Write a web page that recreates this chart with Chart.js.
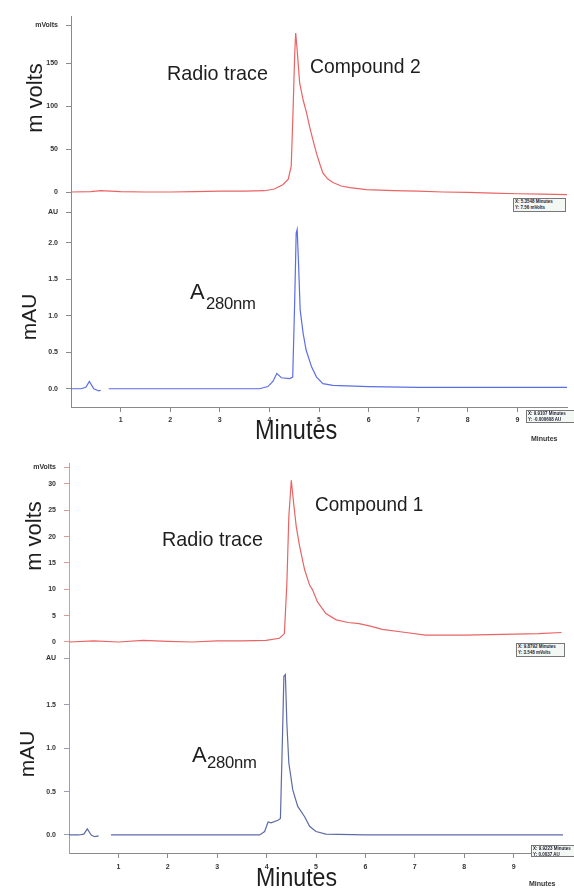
<!DOCTYPE html>
<html><head><meta charset="utf-8">
<script src="https://cdn.jsdelivr.net/npm/chart.js@4.4.1/dist/chart.umd.min.js"></script>
<style>
html,body{margin:0;padding:0;background:#fff;}
body{width:574px;height:888px;position:relative;overflow:hidden;font-family:"Liberation Sans",Arial,sans-serif;}
.box{position:absolute;left:0;width:574px;}
.t{position:absolute;white-space:nowrap;line-height:1;color:#1e1e1e;transform-origin:0 0;}
.rot{position:absolute;white-space:nowrap;line-height:1;color:#1e1e1e;transform:translate(-50%,-50%) rotate(-90deg);}
.cur{position:absolute;font-size:4.5px;line-height:5.5px;font-weight:bold;color:#223;border:1px solid #777;background:#f4f8f4;padding:0 1px;white-space:nowrap;overflow:hidden;}
.small{position:absolute;font-size:7px;line-height:1;font-weight:bold;color:#333;white-space:nowrap;}
</style></head><body>
<div class="box" style="top:2px;height:220px"><canvas id="c2r"></canvas></div>
<div class="box" style="top:194px;height:235px"><canvas id="c2u"></canvas></div>
<div class="box" style="top:449px;height:215px"><canvas id="c1r"></canvas></div>
<div class="box" style="top:636px;height:241px"><canvas id="c1u"></canvas></div>

<div class="t" style="left:167px;top:62px;font-size:21px;transform:scaleX(0.94)">Radio trace</div>
<div class="t" style="left:310px;top:55px;font-size:21px;transform:scaleX(0.92)">Compound 2</div>
<div class="t" style="left:190px;top:281px;font-size:22px;">A</div>
<div class="t" style="left:206px;top:295px;font-size:17px;transform:scaleX(0.98);letter-spacing:-0.3px">280nm</div>
<div class="rot" style="left:35px;top:98px;font-size:22px;">m volts</div>
<div class="rot" style="left:28px;top:317px;font-size:21px;">mAU</div>
<div class="t" style="left:255px;top:417px;font-size:27px;transform:scaleX(0.87)">Minutes</div>
<div class="small" style="left:531px;top:435px;">Minutes</div>

<div class="t" style="left:162px;top:528px;font-size:21px;transform:scaleX(0.94)">Radio trace</div>
<div class="t" style="left:315px;top:493px;font-size:21px;transform:scaleX(0.9)">Compound 1</div>
<div class="t" style="left:192px;top:744px;font-size:22px;">A</div>
<div class="t" style="left:207px;top:754px;font-size:17px;transform:scaleX(0.98);letter-spacing:-0.3px">280nm</div>
<div class="rot" style="left:34px;top:536px;font-size:22px;">m volts</div>
<div class="rot" style="left:26px;top:754px;font-size:21px;">mAU</div>
<div class="t" style="left:256px;top:864px;font-size:26px;transform:scaleX(0.89)">Minutes</div>
<div class="small" style="left:529px;top:880px;">Minutes</div>

<div class="cur" style="left:513px;top:198px;width:49px;height:12px">X: 5.3548 Minutes<br>Y: 7.56 mVolts</div>
<div class="cur" style="left:526px;top:410px;width:52px;height:11px">X: 9.9107 Minutes<br>Y: -0.000608 AU</div>
<div class="cur" style="left:516px;top:643px;width:45px;height:12px">X: 9.8792 Minutes<br>Y: 3.548 mVolts</div>
<div class="cur" style="left:531px;top:845px;width:46px;height:10px">X: 9.9223 Minutes<br>Y: 0.0037 AU</div>

<script>
// ---- data ----
const minuteTicks = [1, 2, 3, 4, 5, 6, 7, 8, 9];

// Compound 2 – radio trace (mVolts)
const c2RadioMin = [0, 0.4, 0.6, 1, 1.5, 2, 2.5, 3, 3.5, 3.9, 4.1, 4.27, 4.38, 4.44, 4.48, 4.51, 4.53, 4.56, 4.61, 4.68, 4.75, 4.81, 4.88, 4.95, 5.02, 5.08, 5.18, 5.28, 5.45, 5.62, 5.96, 6.5, 7, 7.5, 8, 8.5, 9, 9.5, 10];
const c2RadioMV  = [0, 0.5, 1.5, 0.5, 0, 0, 0.5, 1, 1, 1.5, 3.5, 8.5, 15, 30, 100, 160, 185, 165, 127, 107, 92, 76, 60, 45, 32, 22, 15, 11, 7, 5, 2.7, 1.5, 1, 0, -0.5, -1.2, -2, -2.5, -3];
// Compound 2 – A280nm (AU)
const c2UvMin = [0, 0.2, 0.3, 0.37, 0.46, 0.56, 0.6, 0.68, 0.76, 1, 2, 3, 3.8, 3.97, 4.07, 4.15, 4.24, 4.41, 4.47, 4.51, 4.54, 4.56, 4.59, 4.62, 4.68, 4.74, 4.85, 4.95, 5.08, 5.28, 6, 7, 8, 9, 10];
const c2UvAU  = [0, 0, 0.02, 0.1, 0.0, -0.03, -0.02, null, 0, 0, 0, 0, 0, 0.03, 0.1, 0.21, 0.15, 0.14, 0.16, 1.2, 2.13, 2.18, 1.67, 1.08, 0.76, 0.53, 0.30, 0.16, 0.07, 0.045, 0.03, 0.02, 0.02, 0.02, 0.02];

// Compound 1 – radio trace (mVolts)
const c1RadioMin = [0, 0.5, 1, 1.5, 2, 2.5, 3, 3.5, 3.99, 4.26, 4.36, 4.41, 4.45, 4.5, 4.54, 4.6, 4.67, 4.77, 4.87, 4.93, 5.03, 5.2, 5.41, 5.65, 5.87, 6.1, 6.34, 6.82, 7.22, 7.6, 8.03, 8.5, 9.03, 9.5, 9.97];
const c1RadioMV  = [0, 0.2, 0, 0.3, 0.1, 0, 0.2, 0.2, 0.3, 0.7, 1.6, 11, 23.8, 30.7, 27, 21.9, 18.1, 13.7, 10.8, 9.9, 7.6, 5.4, 4.2, 3.7, 3.5, 3.0, 2.4, 1.8, 1.3, 1.3, 1.3, 1.4, 1.5, 1.6, 1.8];
// Compound 1 – A280nm (AU)
const c1UvMin = [0, 0.2, 0.3, 0.37, 0.45, 0.52, 0.6, 0.72, 0.85, 1, 2, 3, 3.86, 3.96, 4.03, 4.09, 4.23, 4.28, 4.32, 4.35, 4.38, 4.41, 4.45, 4.53, 4.63, 4.77, 4.87, 5.0, 5.2, 6, 7, 8, 9, 10];
const c1UvAU  = [0, 0, 0.01, 0.07, 0.0, -0.02, -0.01, null, 0, 0, 0, 0, 0, 0.04, 0.15, 0.14, 0.17, 0.19, 1.1, 1.83, 1.85, 1.29, 0.83, 0.52, 0.33, 0.21, 0.1, 0.04, 0.01, 0, 0, 0, 0, 0];

// tick labels
const c2MvTicks = [0, 50, 100, 150];
const c2AuTicks = [0, 0.5, 1.0, 1.5, 2.0];
const c1MvTicks = [0, 5, 10, 15, 20, 25, 30];
const c1AuTicks = [0, 0.5, 1.0, 1.5];
const mvUnit = 'mVolts';
const auUnit = 'AU';

const FAM = '"Liberation Sans", Arial, sans-serif';

function mk(id, o) {
  const pts = o.xs.map((x, i) => ({x: x, y: o.ys[i]}));
  return new Chart(document.getElementById(id), {
    type: 'line',
    data: {datasets: [{data: pts, borderColor: o.color, borderWidth: 1.2, pointRadius: 0, tension: 0, spanGaps: false, fill: false}]},
    options: {
      animation: false, responsive: true, maintainAspectRatio: false, events: [],
      layout: {padding: {top: 14, bottom: o.showX ? 0 : 14, left: 0, right: o.padRight}},
      plugins: {legend: {display: false}, tooltip: {enabled: false}},
      scales: {
        x: {
          type: 'linear', min: 0, max: 10, display: o.showX,
          afterBuildTicks: s => { s.ticks = minuteTicks.map(v => ({value: v})); },
          afterFit: s => { s.height = o.xHeight || 0; },
          border: {display: true, color: '#8a8a8a', width: 1},
          grid: {drawOnChartArea: false, drawTicks: true, tickLength: 5, color: '#8a8a8a'},
          ticks: {padding: o.xPad || 4, autoSkip: false, maxRotation: 0, color: '#333', font: {family: FAM, size: 7, weight: 'bold'}}
        },
        y: {
          type: 'linear', min: o.yMin, max: o.yMax,
          afterBuildTicks: s => { s.ticks = o.yTicks.concat([o.topVal]).map(v => ({value: v})); },
          afterFit: s => { s.width = o.areaLeft; },
          border: {display: true, color: o.axisColor, width: 1},
          grid: {drawOnChartArea: false, drawTicks: true, tickLength: 5, color: o.axisColor},
          ticks: {padding: 8, autoSkip: false, color: '#333', font: {family: FAM, size: 7, weight: 'bold'},
            callback: v => (v === o.topVal ? o.topLabel : o.fmt(v))}
        }
      }
    }
  });
}

const intFmt = v => String(Math.round(v));
const decFmt = v => v.toFixed(1);

mk('c2r', {xs: c2RadioMin, ys: c2RadioMV, color: '#ea6464', yMin: -18.6, yMax: 204.7, yTicks: c2MvTicks, topVal: 194, topLabel: mvUnit, fmt: intFmt, axisColor: '#8a8a8a', areaLeft: 71, padRight: 7, showX: false});
mk('c2u', {xs: c2UvMin, ys: c2UvAU, color: '#5b6ee6', yMin: -0.25, yMax: 2.475, yTicks: c2AuTicks, topVal: 2.42, topLabel: auUnit, fmt: decFmt, axisColor: '#8a8a8a', areaLeft: 71, padRight: 7, showX: true, xHeight: 22, xPad: 4});
mk('c1r', {xs: c1RadioMin, ys: c1RadioMV, color: '#ea6464', yMin: -1.52, yMax: 33.97, yTicks: c1MvTicks, topVal: 33.2, topLabel: mvUnit, fmt: intFmt, axisColor: '#dc9a9a', areaLeft: 69, padRight: 11, showX: false});
mk('c1u', {xs: c1UvMin, ys: c1UvAU, color: '#5e6ca6', yMin: -0.208, yMax: 2.134, yTicks: c1AuTicks, topVal: 2.04, topLabel: auUnit, fmt: decFmt, axisColor: '#9aa0b0', areaLeft: 69, padRight: 11, showX: true, xHeight: 24, xPad: 4.5});
</script>
</body></html>
